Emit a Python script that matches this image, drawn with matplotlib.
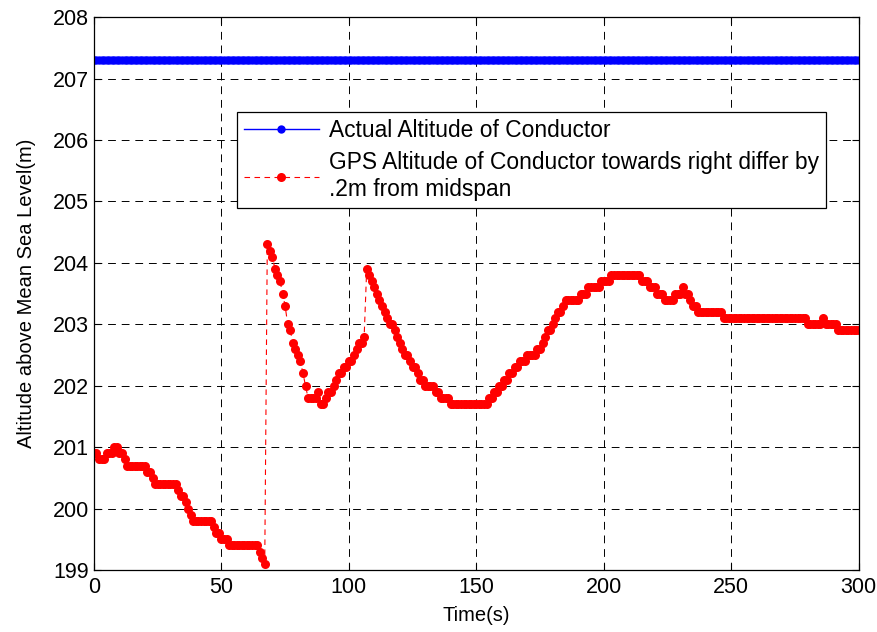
import numpy as np
import matplotlib
matplotlib.use("Agg")
import matplotlib.pyplot as plt

plt.rcParams['font.family'] = ['Liberation Sans', 'DejaVu Sans']

# time axis, one sample per second
time_s = np.arange(0, 301)

# actual altitude of the conductor (constant)
actual_alt = [207.3] * len(time_s)

# GPS altitude, rows of 10 seconds
gps_alt = [
    200.9, 200.9, 200.8, 200.8, 200.8, 200.9, 200.9, 200.9, 201.0, 201.0,
    200.9, 200.9, 200.8, 200.7, 200.7, 200.7, 200.7, 200.7, 200.7, 200.7,
    200.7, 200.6, 200.6, 200.5, 200.4, 200.4, 200.4, 200.4, 200.4, 200.4,
    200.4, 200.4, 200.4, 200.3, 200.2, 200.2, 200.1, 200.0, 199.9, 199.8,
    199.8, 199.8, 199.8, 199.8, 199.8, 199.8, 199.8, 199.7, 199.6, 199.6,
    199.5, 199.5, 199.5, 199.4, 199.4, 199.4, 199.4, 199.4, 199.4, 199.4,
    199.4, 199.4, 199.4, 199.4, 199.4, 199.3, 199.2, 199.1, 204.3, 204.2,
    204.1, 203.9, 203.8, 203.7, 203.5, 203.3, 203.0, 202.9, 202.7, 202.6,
    202.5, 202.4, 202.2, 202.0, 201.8, 201.8, 201.8, 201.8, 201.9, 201.7,
    201.7, 201.8, 201.9, 201.9, 202.0, 202.1, 202.2, 202.2, 202.3, 202.3,
    202.4, 202.4, 202.5, 202.6, 202.7, 202.7, 202.8, 203.9, 203.8, 203.7,
    203.6, 203.5, 203.4, 203.3, 203.2, 203.1, 203.0, 203.0, 202.9, 202.8,
    202.7, 202.6, 202.5, 202.5, 202.4, 202.3, 202.3, 202.2, 202.1, 202.1,
    202.0, 202.0, 202.0, 202.0, 201.9, 201.9, 201.8, 201.8, 201.8, 201.8,
    201.7, 201.7, 201.7, 201.7, 201.7, 201.7, 201.7, 201.7, 201.7, 201.7,
    201.7, 201.7, 201.7, 201.7, 201.7, 201.8, 201.8, 201.9, 201.9, 202.0,
    202.0, 202.1, 202.1, 202.2, 202.2, 202.3, 202.3, 202.4, 202.4, 202.4,
    202.5, 202.5, 202.5, 202.5, 202.6, 202.6, 202.7, 202.8, 202.9, 202.9,
    203.0, 203.1, 203.2, 203.2, 203.3, 203.4, 203.4, 203.4, 203.4, 203.4,
    203.4, 203.5, 203.5, 203.5, 203.6, 203.6, 203.6, 203.6, 203.6, 203.7,
    203.7, 203.7, 203.7, 203.8, 203.8, 203.8, 203.8, 203.8, 203.8, 203.8,
    203.8, 203.8, 203.8, 203.8, 203.8, 203.7, 203.7, 203.7, 203.6, 203.6,
    203.6, 203.5, 203.5, 203.5, 203.4, 203.4, 203.4, 203.4, 203.5, 203.5,
    203.5, 203.6, 203.5, 203.5, 203.4, 203.3, 203.3, 203.2, 203.2, 203.2,
    203.2, 203.2, 203.2, 203.2, 203.2, 203.2, 203.2, 203.1, 203.1, 203.1,
    203.1, 203.1, 203.1, 203.1, 203.1, 203.1, 203.1, 203.1, 203.1, 203.1,
    203.1, 203.1, 203.1, 203.1, 203.1, 203.1, 203.1, 203.1, 203.1, 203.1,
    203.1, 203.1, 203.1, 203.1, 203.1, 203.1, 203.1, 203.1, 203.1, 203.1,
    203.0, 203.0, 203.0, 203.0, 203.0, 203.0, 203.1, 203.0, 203.0, 203.0,
    203.0, 203.0, 202.9, 202.9, 202.9, 202.9, 202.9, 202.9, 202.9, 202.9,
    202.9,
]

labels = ['Actual Altitude of Conductor',
          'GPS Altitude of Conductor towards right differ by\n.2m from midspan']

fig = plt.figure(figsize=(8.78, 6.32), dpi=100)
ax = fig.add_axes([0.107, 0.098, 0.871, 0.875])

ax.plot(time_s, actual_alt, '-', color='blue', lw=1.0,
        marker='o', markersize=6, markeredgewidth=0, label=labels[0])
ax.plot(time_s, gps_alt, color='red', lw=0.8, linestyle=(0, (5, 4)),
        marker='o', markersize=6.5, markeredgewidth=0, label=labels[1])

ax.set_xlim(0, 300)
ax.set_ylim(199, 208)
ax.set_xticks(np.arange(0, 301, 50))
ax.set_yticks(np.arange(199, 209, 1))
ax.tick_params(direction='in', top=True, right=True, length=5,
               labelsize=15.5, width=0.8)
ax.tick_params(axis='x', pad=5)
ax.grid(True, color='black', linestyle=(0, (8, 6)), linewidth=0.7)
for sp in ax.spines.values():
    sp.set_linewidth(0.9)

ax.set_xlabel('Time(s)', fontsize=14.5, labelpad=6)
ax.set_ylabel('Altitude above Mean Sea Level(m)', fontsize=14.5, labelpad=12)

leg = ax.legend(loc='upper left', bbox_to_anchor=(0.187, 0.828),
                fontsize=16.4, fancybox=False, framealpha=1, edgecolor='black',
                handlelength=3.3, handletextpad=0.45, borderpad=0.3,
                labelspacing=0.4, borderaxespad=0)
leg.get_frame().set_linewidth(0.9)

fig.savefig('out.png', dpi=100)
